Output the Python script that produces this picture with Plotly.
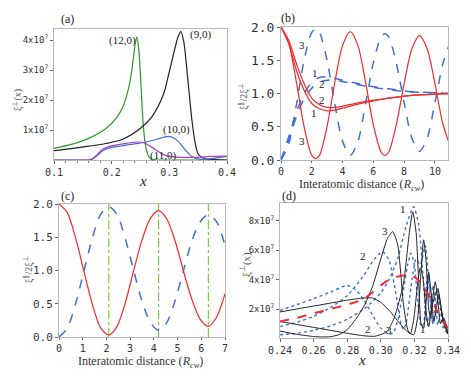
import plotly.graph_objects as go
from plotly.subplots import make_subplots

# ---- panel (a): xi(x) for four tubes (values in units of 1e7)
a_x9 = [0.10, 0.13, 0.16, 0.19, 0.22, 0.25, 0.27, 0.29, 0.30, 0.31, 0.315, 0.32,
        0.325, 0.33, 0.335, 0.34, 0.345, 0.35, 0.36, 0.38, 0.40]
a_y9 = [0.31, 0.38, 0.46, 0.55, 0.70, 1.06, 1.45, 2.20, 2.95, 3.75, 4.10, 4.28,
        3.95, 3.10, 2.10, 1.20, 0.55, 0.20, 0.05, 0.01, 0.00]
a_x12 = [0.10, 0.13, 0.16, 0.19, 0.21, 0.22, 0.23, 0.235, 0.24, 0.2435, 0.247,
         0.25, 0.253, 0.256, 0.26, 0.265, 0.27, 0.28, 0.40]
a_y12 = [0.39, 0.52, 0.72, 1.05, 1.45, 1.80, 2.45, 3.00, 3.75, 4.10, 3.70,
         2.80, 1.70, 0.90, 0.35, 0.10, 0.02, 0.00, 0.00]
a_x10 = [0.10, 0.16, 0.165, 0.175, 0.185, 0.20, 0.22, 0.24, 0.26, 0.28, 0.29,
         0.298, 0.305, 0.315, 0.325, 0.335, 0.345, 0.355, 0.37, 0.385, 0.40]
a_y10 = [0.00, 0.00, 0.02, 0.15, 0.32, 0.42, 0.48, 0.54, 0.60, 0.70, 0.76,
         0.79, 0.76, 0.63, 0.40, 0.18, 0.06, 0.02, 0.04, 0.08, 0.11]
a_x11 = [0.10, 0.16, 0.165, 0.175, 0.185, 0.20, 0.22, 0.245, 0.255, 0.265, 0.28,
         0.29, 0.30, 0.32, 0.35, 0.37, 0.40]
a_y11 = [0.00, 0.00, 0.02, 0.18, 0.37, 0.47, 0.54, 0.60, 0.58, 0.48, 0.30,
         0.18, 0.12, 0.09, 0.09, 0.12, 0.13]

# ---- panel (b): ratio vs interatomic distance
b_x = [0, 0.5, 1, 1.5, 2, 2.5, 3, 3.5, 4, 5, 6, 7, 8, 9, 10, 11]
b_red1 = [2.0, 1.75, 1.35, 1.05, 0.85, 0.77, 0.74, 0.75, 0.78, 0.84, 0.89, 0.93, 0.96, 0.98, 0.99, 1.0]
b_red2 = [2.0, 1.80, 1.45, 1.15, 0.93, 0.83, 0.79, 0.79, 0.81, 0.86, 0.90, 0.93, 0.96, 0.98, 0.99, 1.0]
b_blue1 = [0.0, 0.35, 0.72, 1.00, 1.17, 1.24, 1.25, 1.23, 1.20, 1.15, 1.10, 1.07, 1.04, 1.02, 1.01, 1.0]
b_blue2 = [0.0, 0.30, 0.65, 0.92, 1.08, 1.17, 1.20, 1.20, 1.18, 1.13, 1.09, 1.06, 1.03, 1.02, 1.01, 1.0]
b_x3 = [0, 0.5, 1.0, 1.5, 2.0, 2.25, 2.5, 3.0, 3.5, 4.0, 4.5, 5.0, 5.5, 6.0, 6.5, 6.75,
        7.0, 7.5, 8.0, 8.5, 9.0, 9.5, 10.0, 10.5, 11.0]
b_red3 = [2.0, 1.76, 1.17, 0.50, 0.07, 0.02, 0.07, 0.51, 1.17, 1.72, 1.93, 1.72, 1.16,
          0.53, 0.12, 0.07, 0.12, 0.54, 1.15, 1.67, 1.87, 1.67, 1.15, 0.56, 0.20]
b_blue3 = [0.0, 0.24, 0.83, 1.50, 1.92, 1.97, 1.92, 1.49, 0.84, 0.28, 0.07, 0.28, 0.85,
           1.46, 1.85, 1.90, 1.85, 1.45, 0.86, 0.33, 0.13, 0.33, 0.86, 1.43, 1.78]

# ---- panel (c)
c_x = [0, 0.35, 0.7, 1.05, 1.4, 1.75, 2.1, 2.45, 2.8, 3.15, 3.5, 3.85, 4.2, 4.55,
       4.9, 5.25, 5.6, 5.95, 6.3, 6.65, 7.0]
c_red = [2.0, 1.87, 1.49, 0.99, 0.50, 0.14, 0.03, 0.16, 0.52, 1.00, 1.46, 1.78, 1.90,
         1.77, 1.44, 0.99, 0.57, 0.27, 0.16, 0.30, 0.65]
c_blue = [0.0, 0.13, 0.50, 0.99, 1.48, 1.84, 1.96, 1.84, 1.47, 1.00, 0.54, 0.22, 0.10,
          0.22, 0.55, 1.00, 1.44, 1.73, 1.84, 1.73, 1.38]
c_vlines = [2.1, 4.2, 6.3]

# ---- panel (d): values in units of 1e7
d_xk1 = [0.24, 0.25, 0.26, 0.27, 0.28, 0.29, 0.295, 0.30, 0.305, 0.31, 0.315, 0.3195,
         0.322, 0.324, 0.3255, 0.327, 0.3285, 0.3295, 0.331, 0.3324, 0.334, 0.3355,
         0.337, 0.3385, 0.34]
d_yk1 = [1.8, 2.0, 2.2, 2.4, 2.6, 2.75, 2.75, 2.45, 1.9, 1.2, 0.55, 0.25,
         1.5, 4.6, 6.7, 5.2, 2.0, 1.4, 2.8, 3.85, 2.6, 1.0,
         1.4, 1.1, 0.3]
d_xk2 = [0.24, 0.25, 0.26, 0.27, 0.28, 0.29, 0.2965, 0.3035, 0.308, 0.3135, 0.317,
         0.319, 0.321, 0.3225, 0.324, 0.3255, 0.327, 0.3285, 0.33, 0.3315, 0.333,
         0.3345, 0.336, 0.338, 0.34]
d_yk2 = [1.15, 0.95, 0.75, 0.55, 0.35, 0.18, 0.15, 0.45, 1.4, 3.75, 7.2,
         8.6, 7.2, 4.0, 1.0, 0.7, 2.5, 4.5, 3.0, 1.2, 2.0,
         3.0, 2.0, 0.9, 0.3]
d_xk3 = [0.24, 0.25, 0.26, 0.265, 0.27, 0.275, 0.28, 0.285, 0.29, 0.295, 0.30, 0.304,
         0.307, 0.31, 0.3135, 0.316, 0.3175, 0.3195, 0.322, 0.3235, 0.325, 0.327,
         0.3285, 0.3305, 0.3325, 0.334, 0.3355, 0.337, 0.34]
d_yk3 = [0.5, 0.28, 0.13, 0.1, 0.12, 0.25, 0.6, 1.3, 2.2, 3.5, 5.4, 6.8,
         7.25, 6.4, 2.3, 0.6, 0.3, 1.2, 3.8, 4.8, 4.2, 1.8,
         0.8, 2.2, 3.0, 3.4, 2.4, 1.2, 0.3]
d_xb1 = [0.24, 0.25, 0.26, 0.27, 0.28, 0.29, 0.295, 0.30, 0.305, 0.31, 0.315, 0.3195,
         0.3225, 0.325, 0.327, 0.328, 0.3295, 0.331, 0.3325, 0.334, 0.3355, 0.337, 0.34]
d_yb1 = [0.25, 0.35, 0.55, 0.85, 1.3, 2.0, 2.5, 3.1, 4.0, 5.4, 7.6, 8.95,
         7.8, 4.5, 1.5, 0.9, 2.0, 3.6, 2.4, 0.9, 1.8, 1.6, 0.3]
d_xb2 = [0.24, 0.25, 0.26, 0.27, 0.28, 0.29, 0.295, 0.301, 0.305, 0.309, 0.312, 0.3135,
         0.315, 0.318, 0.321, 0.3235, 0.3265, 0.329, 0.331, 0.3334, 0.3355, 0.3375, 0.34]
d_yb2 = [0.8, 1.1, 1.5, 2.1, 2.9, 4.3, 5.2, 5.9, 5.3, 3.0, 1.0, 0.6,
         1.0, 3.5, 5.4, 5.0, 6.3, 3.0, 1.0, 3.3, 2.2, 0.8, 0.3]
d_xb3 = [0.24, 0.25, 0.26, 0.27, 0.28, 0.285, 0.29, 0.295, 0.30, 0.305, 0.3075, 0.31,
         0.313, 0.316, 0.318, 0.32, 0.322, 0.324, 0.3255, 0.327, 0.328, 0.3295, 0.331,
         0.3325, 0.334, 0.3355, 0.337, 0.34]
d_yb3 = [1.9, 2.3, 2.7, 3.15, 3.6, 3.3, 2.6, 1.6, 0.7, 0.3, 0.4, 1.2,
         3.0, 5.0, 5.8, 5.0, 2.5, 0.8, 1.0, 3.5, 4.3, 3.0, 1.0,
         1.5, 2.8, 2.0, 0.8, 0.3]
d_xr = [0.24, 0.25, 0.26, 0.27, 0.28, 0.29, 0.30, 0.305, 0.31, 0.3175, 0.322, 0.326,
        0.33, 0.3334, 0.336, 0.3394, 0.34]
d_yr = [1.15, 1.4, 1.7, 2.0, 2.3, 2.7, 3.6, 4.0, 4.2, 4.3, 4.0, 3.4,
        2.6, 1.9, 1.3, 0.8, 0.6]

E7 = 1e7
# page has an 8px body margin, so the figure is a bit smaller than the window
OFF = 8
W, H = 455, 364
SERIF = "Liberation Serif"
MONO = "DejaVu Sans Mono"
RED = "#f02a2a"
BLUE = "#3f6fd0"

fig = make_subplots(rows=2, cols=2)


def fx(px):
    return (px - OFF) / W


def fy(py):
    return 1 - (py - OFF) / H


def px_dom(x0, x1, y0, y1):
    return [fx(x0), fx(x1)], [fy(y1), fy(y0)]


def line(x, y, color, row, col, dash="solid", width=1.2, smooth=0.8):
    fig.add_trace(go.Scatter(x=x, y=y, mode="lines", showlegend=False,
                             line=dict(color=color, dash=dash, width=width,
                                       shape="spline", smoothing=smooth)),
                  row=row, col=col)


# (a)
line(a_x12, [v * E7 for v in a_y12], "#2b9a2b", 1, 1)
line(a_x9, [v * E7 for v in a_y9], "#222222", 1, 1)
line(a_x10, [v * E7 for v in a_y10], "#3d6fd6", 1, 1)
line(a_x11, [v * E7 for v in a_y11], "#b03ab8", 1, 1)

# (b)
line(b_x3, b_blue3, BLUE, 1, 2, dash="dash", width=1.5)
line(b_x, b_blue1, BLUE, 1, 2, dash="dash", width=1.5)
line(b_x, b_blue2, BLUE, 1, 2, dash="dash", width=1.5)
line(b_x3, b_red3, RED, 1, 2)
line(b_x, b_red1, RED, 1, 2)
line(b_x, b_red2, RED, 1, 2)

# (c)
for v in c_vlines:
    fig.add_trace(go.Scatter(x=[v, v], y=[0, 2], mode="lines", showlegend=False,
                             line=dict(color="#7ccc3a", dash="dashdot", width=1.2)),
                  row=2, col=1)
line(c_x, c_blue, BLUE, 2, 1, dash="dash", width=1.5)
line(c_x, c_red, RED, 2, 1)

# (d)
for xs, ys in [(d_xb1, d_yb1), (d_xb2, d_yb2), (d_xb3, d_yb3)]:
    line(xs, [v * E7 for v in ys], BLUE, 2, 2, dash="dot", width=1.4, smooth=0.6)
for xs, ys in [(d_xk1, d_yk1), (d_xk2, d_yk2), (d_xk3, d_yk3)]:
    line(xs, [v * E7 for v in ys], "#222222", 2, 2, width=1.0, smooth=0.6)
line(d_xr, [v * E7 for v in d_yr], RED, 2, 2, dash="dash", width=2.0)

doms = {
    "1": px_dom(54, 227, 29, 160),
    "2": px_dom(281, 448, 27, 160),
    "3": px_dom(59, 225, 204, 337),
    "4": px_dom(280, 448, 203, 338),
}

axis_common = dict(showline=True, linecolor="#b8b8b8", linewidth=1, mirror=True,
                   ticks="outside", ticklen=3, tickcolor="#666", showgrid=False,
                   zeroline=False, automargin=False,
                   tickfont=dict(family=MONO, size=10, color="#333"))

sci = lambda vals: ["%dx10<sup>7</sup>" % v for v in vals]

for k, (xd, yd) in doms.items():
    sfx = "" if k == "1" else k
    fig.layout["xaxis" + sfx].update(domain=xd, **axis_common)
    fig.layout["yaxis" + sfx].update(domain=yd, **axis_common)

fig.update_layout(
    xaxis=dict(range=[0.1, 0.4], tickvals=[0.1, 0.2, 0.3, 0.4],
               minor=dict(ticks="outside", ticklen=2, dtick=0.02, tickcolor="#888")),
    yaxis=dict(range=[0, 4.37e7], tickvals=[1e7, 2e7, 3e7, 4e7], ticktext=sci([1, 2, 3, 4]),
               tickfont=dict(family=MONO, size=9, color="#333")),
    xaxis2=dict(range=[0, 10.85], tickvals=[0, 2, 4, 6, 8, 10], ticklen=2,
                tickfont=dict(family=MONO, size=10, color="#333")),
    yaxis2=dict(range=[0, 2.0], tickvals=[0, 0.5, 1.0, 1.5, 2.0], tickformat=".1f",
                tickfont=dict(family=MONO, size=13, color="#333")),
    xaxis3=dict(range=[0, 7], dtick=1, ticklen=2,
                tickfont=dict(family=MONO, size=10, color="#333")),
    yaxis3=dict(range=[0, 2.0], tickvals=[0, 0.5, 1.0, 1.5, 2.0], tickformat=".1f",
                tickfont=dict(family=MONO, size=11, color="#333")),
    xaxis4=dict(range=[0.24, 0.34], tickvals=[0.24, 0.26, 0.28, 0.30, 0.32, 0.34],
                tickformat=".2f"),
    yaxis4=dict(range=[0.03e7, 9.2e7], tickvals=[2e7, 4e7, 6e7, 8e7], ticktext=sci([2, 4, 6, 8]),
                tickfont=dict(family=MONO, size=9, color="#333")),
)


def ann(text, x, y, size=11, color="#222", angle=0, italic=False):
    if italic:
        text = "<i>" + text + "</i>"
    fig.add_annotation(text=text, x=fx(x), y=fy(y), xref="paper", yref="paper",
                       xanchor="center", yanchor="middle",
                       showarrow=False, textangle=angle,
                       font=dict(family=SERIF, size=size, color=color))


# panel letters
ann("(a)", 67, 19, 12)
ann("(b)", 288, 18, 12)
ann("(c)", 67, 196, 12)
ann("(d)", 289, 196, 12)

# axis titles
ann("x", 143, 181, 15, italic=True)
ann("Interatomic distance (<i>R<sub>cw</sub></i>)", 361, 185, 12, color="#333")
ann("Interatomic distance (<i>R<sub>cw</sub></i>)", 140, 362, 12, color="#333")
ann("x", 362, 360, 15, italic=True)
ann("ξ<sup>⊥</sup>(x)", 17, 100, 10, color="#555", angle=-90)
ann("ξ<sup>∥</sup>/2ξ<sup>⊥</sup>", 243, 97, 10, color="#555", angle=-90)
ann("ξ<sup>∥</sup>/2ξ<sup>⊥</sup>", 28, 270, 10, color="#555", angle=-90)
ann("ξ<sup>⊥</sup>(x)", 245, 265, 11, color="#555", angle=-90)

# curve labels (a)
ann("(12,0)", 122, 40, 11)
ann("(9,0)", 200, 35, 11)
ann("(10,0)", 176, 130, 11)
ann("(11,0)", 163, 155, 11)

# curve labels (b)
ann("3", 302, 45, 11)
ann("1", 315, 73, 11)
ann("2", 322, 84, 11)
ann("2", 322, 100, 11)
ann("1", 314, 113, 11)
ann("3", 302, 141, 11)

# curve labels (d)
ann("1", 403, 209, 11)
ann("3", 385, 231, 11)
ann("2", 363, 256, 11)
ann("2", 368, 329, 11)
ann("3", 389, 330, 11)
ann("1", 423, 329, 11)

fig.update_layout(width=W, height=H, margin=dict(l=0, r=0, t=0, b=0),
                  plot_bgcolor="white", paper_bgcolor="white")

fig.write_html("out.html")
